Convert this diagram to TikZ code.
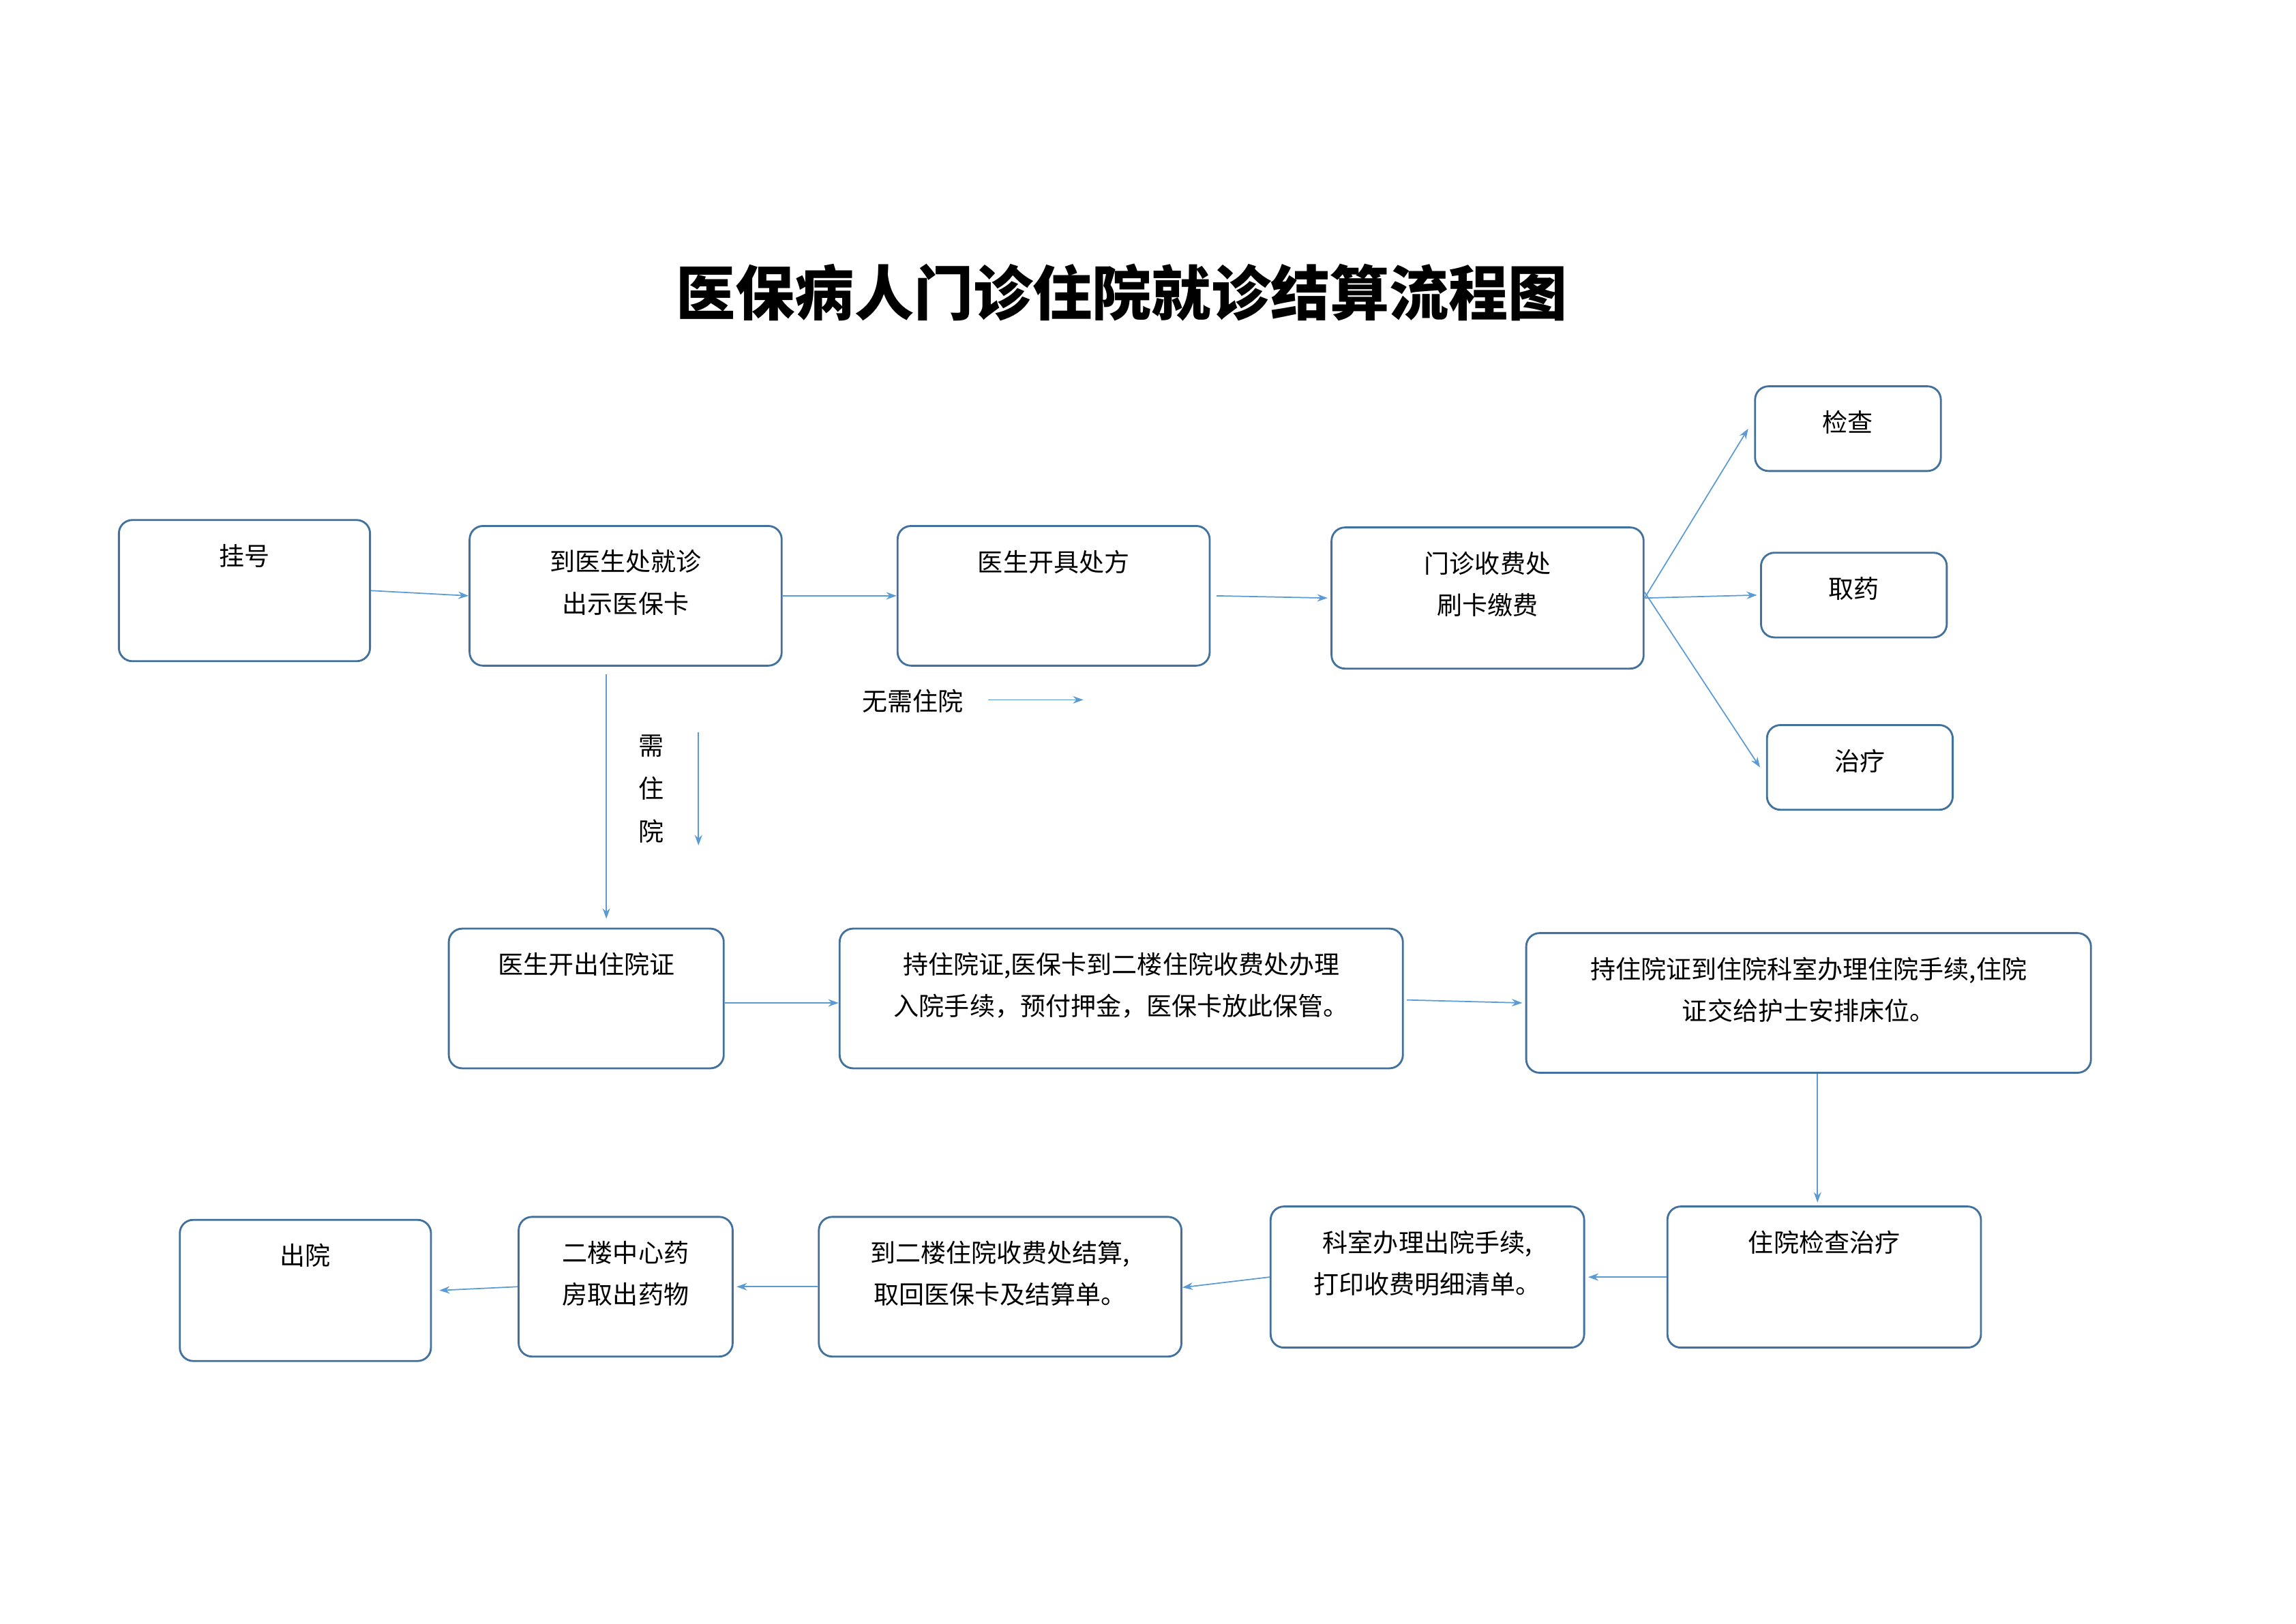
\documentclass[tikz,border=0pt]{standalone}
\usepackage{fontspec}
\setmainfont{Noto Sans CJK SC}
\usetikzlibrary{arrows.meta}
\definecolor{boxblue}{HTML}{41719C}
\definecolor{lineblue}{HTML}{5B9BD5}
\tikzstyle{step box}=[rectangle, rounded corners=9pt, line width=1.3pt, draw=boxblue]
\tikzstyle{txt}=[font=\fontsize{17}{28}\selectfont, align=center, inner sep=0pt]
\tikzstyle{arr}=[-{Stealth[length=7pt,width=5pt]}, line width=0.8pt, draw=lineblue]
% box from corner (x1,y1) to (x2,y2), text on top line
\newcommand{\stepbox}[6]{%
  \node[step box, minimum width={(#4-#2)*1pt}, minimum height={(#5-#3)*1pt}]
    (#1) at ({(#2+#4)/2},{(#3+#5)/2}) {};
  \node[txt, anchor=north] (#1t) at ({(#2+#4)/2},{#3+16}) {#6};}

\begin{document}
\begin{tikzpicture}[x=1pt, y=-1pt]
\useasboundingbox (0,0) rectangle (1545,1093);

\node[font=\fontsize{40}{40}\selectfont\bfseries] (title) at (755,197) {医保病人门诊住院就诊结算流程图};

\stepbox{guahao}{80}{350}{249}{445}{挂号}
\stepbox{jiuzhen}{316}{354}{526}{448}{到医生处就诊\\出示医保卡}
\stepbox{chufang}{604}{354}{814}{448}{医生开具处方}
\stepbox{shoufei}{896}{355}{1106}{450}{门诊收费处\\刷卡缴费}
\stepbox{jiancha}{1181}{260}{1306}{317}{检查}
\stepbox{quyao}{1185}{372}{1310}{429}{取药}
\stepbox{zhiliao}{1189}{488}{1314}{545}{治疗}
\stepbox{zhuyuanzheng}{302}{625}{487}{719}{医生开出住院证}
\stepbox{ruyuan}{565}{625}{944}{719}{持住院证,医保卡到二楼住院收费处办理\\入院手续，预付押金，医保卡放此保管。}
\stepbox{keshi}{1027}{628}{1407}{722}{持住院证到住院科室办理住院手续,住院\\证交给护士安排床位。}
\stepbox{zhuyuanzl}{1122}{812}{1333}{907}{住院检查治疗}
\stepbox{chuyuansx}{855}{812}{1066}{907}{科室办理出院手续,\\打印收费明细清单。}
\stepbox{jiesuan}{551}{819}{795}{913}{到二楼住院收费处结算,\\取回医保卡及结算单。}
\stepbox{yaofang}{349}{819}{493}{913}{二楼中心药\\房取出药物}
\stepbox{chuyuan}{121}{821}{290}{916}{出院}

% outpatient line
\draw[arr] (guahao.east) -- (jiuzhen.west);
\draw[arr] (jiuzhen.east) -- (chufang.west);
\draw[arr] ([xshift=4pt]chufang.east) -- ([xshift=-2pt]shoufei.west);
\draw[arr] (shoufei.east) -- ([xshift=-4pt]jiancha.west);
\draw[arr] (shoufei.east) -- ([xshift=-2pt]quyao.west);
\draw[arr] ([yshift=4pt]shoufei.east) -- ([xshift=-4pt]zhiliao.west);

% labels between rows
\node[txt] (wuxu) at (614,472) {无需住院};
\coordinate (wuxua) at (665,471);
\coordinate (wuxub) at (729,471);
\draw[arr] (wuxua) -- (wuxub);
\node[txt, align=center, font=\fontsize{17}{29}\selectfont] (xuzhu) at (438,531) {需\\住\\院};
\coordinate (xuzhua) at (470,493);
\coordinate (xuzhub) at (470,569);
\draw[arr] (xuzhua) -- (xuzhub);
\draw[arr] ([xshift=-13pt, yshift=-5pt]jiuzhen.south) -- ([xshift=-13pt, yshift=6pt]jiuzhen.south |- zhuyuanzheng.north);

% inpatient line
\draw[arr] ([yshift=-3pt]zhuyuanzheng.east) -- ([yshift=-3pt]zhuyuanzheng.east -| ruyuan.west);
\draw[arr] ([xshift=2pt, yshift=-1pt]ruyuan.east) -- ([xshift=-2pt]keshi.west);
\draw[arr] ([xshift=6pt]keshi.south) -- ([xshift=6pt, yshift=2pt]keshi.south |- zhuyuanzl.north);
\draw[arr] (zhuyuanzl.west) -- ([xshift=2pt]chuyuansx.east);
\draw[arr] (chuyuansx.west) -- ([yshift=-7pt]chuyuansx.west -| jiesuan.east) ;
\draw[arr] (jiesuan.west) -- ([xshift=2pt]yaofang.east);
\draw[arr] (yaofang.west) -- ([xshift=5pt]chuyuan.east);
\end{tikzpicture}
\end{document}
